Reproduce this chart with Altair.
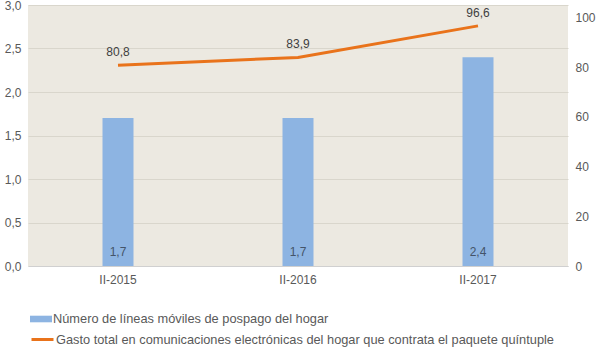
import altair as alt
import pandas as pd

periods = ["II-2015", "II-2016", "II-2017"]
lineas = [1.7, 1.7, 2.4]
gasto = [80.8, 83.9, 96.6]
bar_name = "Número de líneas móviles de pospago del hogar"
line_name = "Gasto total en comunicaciones electrónicas del hogar que contrata el paquete quíntuple"

df = pd.DataFrame({"periodo": periods, "lineas": lineas, "gasto": gasto,
                   "s1": [bar_name] * 3, "s2": [line_name] * 3})

FONT = "Liberation Sans"
GRAY = "#595959"
comma = "replace(format(datum.value, '.1f'), '.', ',')"

x = alt.X("periodo:N", sort=periods, title=None,
          scale=alt.Scale(paddingInner=0, paddingOuter=0),
          axis=alt.Axis(labelAngle=0, ticks=False, domain=True, domainColor="#d0d0d0",
                        labelColor=GRAY, labelFont=FONT, labelFontSize=12, labelPadding=8))

left_axis = alt.Axis(values=[0, 0.5, 1, 1.5, 2, 2.5, 3], labelExpr=comma, ticks=False,
                     domain=False, grid=True, gridColor="#d9d6cc", labelColor=GRAY,
                     labelFont=FONT, labelFontSize=12, labelPadding=7)
right_axis = alt.Axis(orient="right", values=[0, 20, 40, 60, 80, 100], ticks=False,
                      domain=False, grid=False, labelColor=GRAY, labelFont=FONT,
                      labelFontSize=12, labelPadding=7)
lscale = alt.Scale(domain=[0, 3], nice=False)
rscale = alt.Scale(domain=[0, 105], nice=False)

bars = alt.Chart(df).mark_bar(size=31).encode(
    x=x,
    y=alt.Y("lineas:Q", title=None, scale=lscale, axis=left_axis),
    fill=alt.Fill("s1:N", title=None,
                  scale=alt.Scale(range=["#8DB4E2"]),
                  legend=alt.Legend(orient="none", legendX=2, legendY=303,
                                    symbolType="M-1,-0.3L1,-0.3L1,0.3L-1,0.3Z",
                                    symbolSize=484, labelFont=FONT, labelFontSize=12.8,
                                    labelColor=GRAY, labelOffset=1, labelLimit=700,
                                    symbolStrokeWidth=0)),
)

bar_text = alt.Chart(df).mark_text(baseline="bottom", dy=-7, font=FONT, fontSize=12,
                                   color="#44546A").encode(
    x=alt.X("periodo:N", sort=periods, title=None),
    y=alt.Y("zero:Q", title=None, scale=lscale, axis=left_axis),
    text=alt.Text("label:N"),
).transform_calculate(zero="0", label=comma.replace("datum.value", "datum.lineas"))

line = alt.Chart(df).mark_line(strokeWidth=3).encode(
    x=alt.X("periodo:N", sort=periods, title=None),
    y=alt.Y("gasto:Q", title=None, scale=rscale, axis=right_axis),
    stroke=alt.Stroke("s2:N", title=None,
                      scale=alt.Scale(range=["#E9731B"]),
                      legend=alt.Legend(orient="none", legendX=2, legendY=322,
                                        symbolType="stroke", symbolSize=484,
                                        symbolStrokeWidth=3,
                                        labelFont=FONT, labelFontSize=12.8,
                                        labelColor=GRAY, labelOffset=1, labelLimit=700)),
)

line_text = alt.Chart(df).mark_text(baseline="bottom", dy=-6, font=FONT, fontSize=12,
                                    color="#404040").encode(
    x=alt.X("periodo:N", sort=periods, title=None),
    y=alt.Y("gasto:Q", title=None, scale=rscale, axis=right_axis),
    text=alt.Text("label:N"),
).transform_calculate(label=comma.replace("datum.value", "datum.gasto"))

left = alt.layer(bars, bar_text)
right = alt.layer(line, line_text)

chart = alt.layer(left, right).resolve_scale(
    y="independent", fill="independent", stroke="independent"
).properties(
    width=540, height=261,
    padding={"left": 28, "top": 5, "right": 32, "bottom": 86},
    autosize=alt.AutoSizeParams(type="none"),
    background="white",
).configure_view(fill="#ECE9E1", stroke=None)

chart.save("out.html", embed_options={"renderer": "svg", "actions": False})
